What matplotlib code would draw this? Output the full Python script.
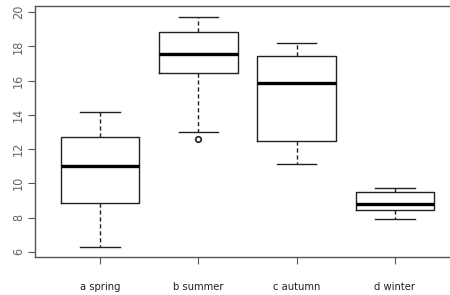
import matplotlib
matplotlib.use("Agg")
import matplotlib.pyplot as plt

# seasons and their boxplot summary values
seasons = ["a spring", "b summer", "c autumn", "d winter"]
whisker_low = [6.29, 13.0, 11.13, 7.91]
box_low = [8.83, 16.45, 12.46, 8.44]
medians = [11.01, 17.56, 15.88, 8.81]
box_high = [12.71, 18.83, 17.46, 9.49]
whisker_high = [14.17, 19.74, 18.19, 9.74]
outliers = [[], [12.57], [], []]
yticks = [6, 8, 10, 12, 14, 16, 18, 20]

plt.rcParams['font.family'] = ['DejaVu Sans']
plt.rcParams['font.stretch'] = 'condensed'

stats = []
for i, name in enumerate(seasons):
    stats.append({
        "label": name,
        "whislo": whisker_low[i],
        "q1": box_low[i],
        "med": medians[i],
        "q3": box_high[i],
        "whishi": whisker_high[i],
        "fliers": outliers[i],
    })

fig = plt.figure(figsize=(4.5, 2.95), dpi=100)
ax = fig.add_axes([0.0778, 0.1288, 0.944, 0.851])

line_col = "#222222"
ax.bxp(stats, positions=[1, 2, 3, 4], widths=0.8, showfliers=True,
       boxprops=dict(color=line_col, lw=1.0),
       medianprops=dict(color="black", lw=2.4, solid_capstyle="butt"),
       whiskerprops=dict(color=line_col, lw=1.0, linestyle=(0, (3, 2))),
       capprops=dict(color=line_col, lw=1.0),
       flierprops=dict(marker="o", markersize=4, markerfacecolor="none",
                       markeredgecolor=line_col, markeredgewidth=1.2))

ax.set_xlim(0.34, 4.66)
ax.set_ylim(5.69, 20.37)
ax.set_yticks(yticks)
ax.set_yticklabels([str(t) for t in yticks], rotation=90, va="center",
                   fontsize=9, color="#666666")
ax.set_xticks([1, 2, 3, 4])
ax.set_xticklabels(seasons, fontsize=8, color="#222222")
ax.tick_params(axis="both", direction="out", length=5, width=0.8, color="#555555")
ax.tick_params(axis="x", pad=13)
ax.tick_params(axis="y", pad=2)

for s in ax.spines.values():
    s.set_color("#555555")
    s.set_linewidth(1.0)

fig.savefig("out.png", dpi=100)
